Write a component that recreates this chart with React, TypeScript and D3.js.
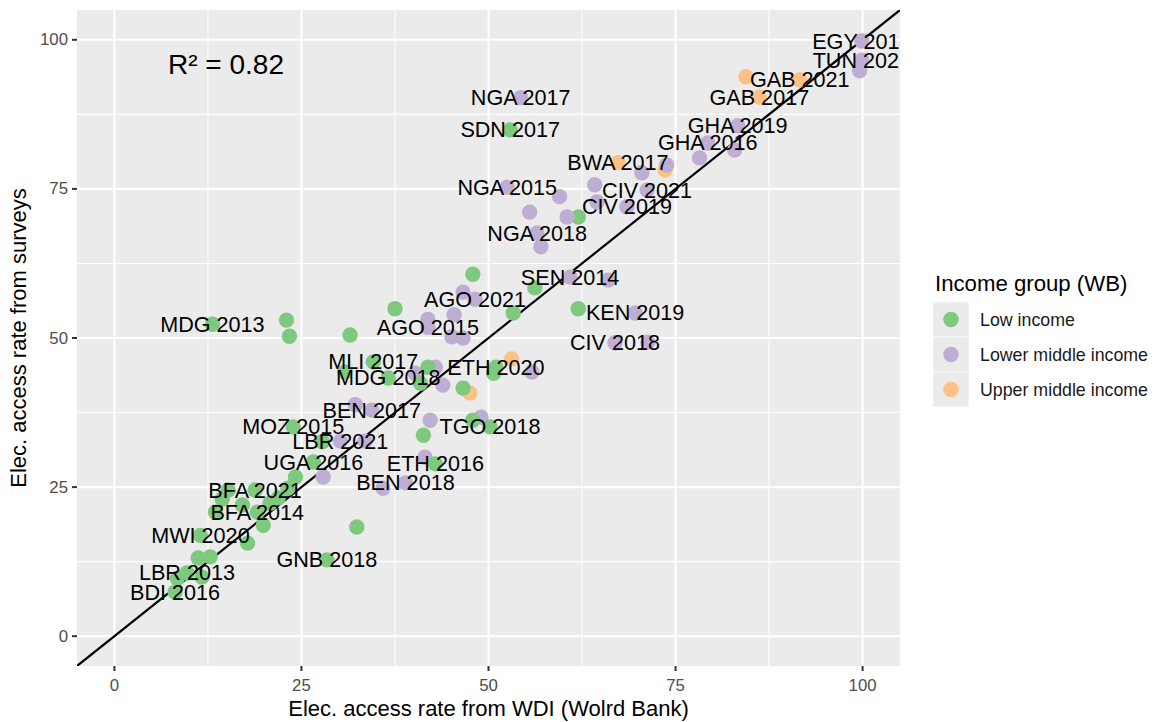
import React from "react";
import * as d3 from "d3";

// Income groups (World Bank classification) and their Accent palette colours
const incomeGroups = ["Low income", "Lower middle income", "Upper middle income"];
const groupColors = ["#7FC97F", "#BEAED4", "#FDC086"];

// [WDI access rate, survey access rate, income group index, country-year label]
// Orange first, then purple, then green, so overlaps stack the same way.
const observations: [number, number, number, string][] = [
  [84.4, 93.8, 2, ""],
  [91.6, 93.3, 2, "GAB 2021"],
  [86.2, 90.4, 2, "GAB 2017"],
  [67.3, 79.4, 2, "BWA 2017"],
  [73.6, 78.2, 2, ""],
  [53.1, 46.5, 2, ""],
  [47.5, 40.8, 2, ""],
  [62.0, 70.3, 0, ""],
  [99.9, 99.8, 1, "EGY 2014"],
  [99.9, 96.6, 1, "TUN 2021"],
  [99.6, 94.8, 1, ""],
  [83.3, 85.6, 1, "GHA 2019"],
  [79.3, 82.7, 1, "GHA 2016"],
  [82.9, 81.5, 1, ""],
  [78.2, 80.2, 1, ""],
  [73.8, 79.0, 1, ""],
  [70.5, 77.7, 1, ""],
  [64.2, 75.7, 1, ""],
  [71.2, 74.8, 1, "CIV 2021"],
  [59.5, 73.7, 1, ""],
  [52.5, 75.3, 1, "NGA 2015"],
  [55.5, 71.1, 1, ""],
  [68.5, 72.0, 1, "CIV 2019"],
  [64.5, 72.8, 1, ""],
  [60.5, 70.3, 1, ""],
  [56.5, 67.6, 1, "NGA 2018"],
  [57.0, 65.3, 1, ""],
  [54.3, 90.3, 1, "NGA 2017"],
  [60.9, 60.2, 1, "SEN 2014"],
  [66.0, 59.7, 1, ""],
  [46.6, 57.7, 1, ""],
  [48.2, 56.5, 1, "AGO 2021"],
  [45.4, 53.9, 1, ""],
  [41.9, 53.1, 1, ""],
  [41.9, 51.8, 1, "AGO 2015"],
  [45.1, 50.2, 1, ""],
  [46.6, 50.0, 1, ""],
  [69.6, 54.2, 1, "KEN 2019"],
  [66.9, 49.2, 1, "CIV 2018"],
  [71.3, 49.3, 1, ""],
  [55.8, 44.3, 1, ""],
  [42.9, 45.1, 1, ""],
  [40.2, 44.1, 1, ""],
  [43.9, 42.1, 1, ""],
  [42.2, 36.2, 1, ""],
  [49.0, 36.7, 1, ""],
  [32.2, 38.8, 1, ""],
  [34.4, 37.9, 1, "BEN 2017"],
  [30.2, 32.7, 1, "LBR 2021"],
  [33.5, 32.7, 1, ""],
  [27.9, 26.7, 1, ""],
  [41.5, 30.0, 1, ""],
  [38.9, 25.7, 1, "BEN 2018"],
  [35.9, 24.8, 1, ""],
  [52.9, 84.9, 0, "SDN 2017"],
  [47.9, 60.7, 0, ""],
  [56.2, 58.4, 0, ""],
  [53.3, 54.2, 0, ""],
  [37.5, 54.9, 0, ""],
  [62.0, 54.9, 0, ""],
  [13.1, 52.3, 0, "MDG 2013"],
  [23.0, 53.0, 0, ""],
  [23.4, 50.3, 0, ""],
  [31.5, 50.5, 0, ""],
  [34.6, 46.0, 0, "MLI 2017"],
  [30.8, 44.3, 0, ""],
  [36.6, 43.3, 0, "MDG 2018"],
  [41.9, 45.1, 0, ""],
  [40.9, 42.4, 0, ""],
  [51.0, 45.1, 0, "ETH 2020"],
  [50.7, 44.1, 0, ""],
  [46.6, 41.6, 0, ""],
  [47.9, 36.2, 0, ""],
  [50.2, 35.1, 0, "TGO 2018"],
  [41.3, 33.7, 0, ""],
  [23.9, 35.1, 0, "MOZ 2015"],
  [27.8, 32.6, 0, ""],
  [26.6, 29.2, 0, "UGA 2016"],
  [24.2, 26.7, 0, ""],
  [42.9, 28.9, 0, "ETH 2016"],
  [32.4, 18.3, 0, ""],
  [28.4, 12.8, 0, "GNB 2018"],
  [23.2, 24.8, 0, ""],
  [21.9, 23.2, 0, ""],
  [18.8, 24.5, 0, "BFA 2021"],
  [15.2, 24.5, 0, ""],
  [14.4, 23.0, 0, ""],
  [20.8, 22.3, 0, ""],
  [17.1, 22.0, 0, ""],
  [19.1, 20.8, 0, "BFA 2014"],
  [13.5, 20.8, 0, ""],
  [19.9, 18.6, 0, ""],
  [11.5, 16.9, 0, "MWI 2020"],
  [17.8, 15.6, 0, ""],
  [11.2, 13.1, 0, ""],
  [12.8, 13.3, 0, ""],
  [9.7, 10.6, 0, "LBR 2013"],
  [11.7, 9.9, 0, ""],
  [8.4, 9.7, 0, ""],
  [8.1, 7.4, 0, "BDI 2016"],
];

const majorTicks = [0, 25, 50, 75, 100];
const minorTicks = [12.5, 37.5, 62.5, 87.5];
const axisDomain: [number, number] = [-5, 105];
const fitIntercept = 0;
const fitSlope = 1;
const rSquaredText = "R² = 0.82";

const xTitle = "Elec. access rate from WDI (Wolrd Bank)";
const yTitle = "Elec. access rate from surveys";
const legendTitle = "Income group (WB)";

const FONT = "'Liberation Sans', Arial, Helvetica, sans-serif";

export default function App() {
  const width = 1156;
  const height = 722;
  const panel = { left: 77, right: 900, top: 10, bottom: 666 };

  const x = d3.scaleLinear().domain(axisDomain).range([panel.left, panel.right]);
  const y = d3.scaleLinear().domain(axisDomain).range([panel.bottom, panel.top]);

  const fitLine = d3
    .line<number>()
    .x((v) => x(v))
    .y((v) => y(fitIntercept + fitSlope * v));

  const legend = { x: 933, titleY: 283, keyTop: 302, keyH: 35, keyW: 36 };

  return (
    <svg
      width={width}
      height={height}
      style={{ position: "absolute", left: 0, top: 0, background: "#fff" }}
      fontFamily={FONT}
    >
      <defs>
        <clipPath id="panel-clip">
          <rect
            x={panel.left}
            y={panel.top}
            width={panel.right - panel.left}
            height={panel.bottom - panel.top}
          />
        </clipPath>
      </defs>

      {/* panel background and grid */}
      <rect
        x={panel.left}
        y={panel.top}
        width={panel.right - panel.left}
        height={panel.bottom - panel.top}
        fill="#EBEBEB"
      />
      {minorTicks.map((t) => (
        <g key={"minor" + t}>
          <line x1={x(t)} x2={x(t)} y1={panel.top} y2={panel.bottom} stroke="#fff" strokeWidth={1.1} />
          <line x1={panel.left} x2={panel.right} y1={y(t)} y2={y(t)} stroke="#fff" strokeWidth={1.1} />
        </g>
      ))}
      {majorTicks.map((t) => (
        <g key={"major" + t}>
          <line x1={x(t)} x2={x(t)} y1={panel.top} y2={panel.bottom} stroke="#fff" strokeWidth={2.1} />
          <line x1={panel.left} x2={panel.right} y1={y(t)} y2={y(t)} stroke="#fff" strokeWidth={2.1} />
        </g>
      ))}

      <g clipPath="url(#panel-clip)">
        {/* regression line */}
        <path d={fitLine(axisDomain) ?? ""} stroke="#000" strokeWidth={2.2} fill="none" />

        {/* points */}
        {observations.map((d, i) => (
          <circle key={"p" + i} cx={x(d[0])} cy={y(d[1])} r={7.7} fill={groupColors[d[2]]} />
        ))}

        {/* country-year labels */}
        {observations
          .filter((d) => d[3] !== "")
          .map((d, i) => (
            <text
              key={"l" + i}
              x={x(d[0])}
              y={y(d[1])}
              textAnchor="middle"
              dominantBaseline="central"
              fontSize={21.6}
              fill="#000"
            >
              {d[3]}
            </text>
          ))}

        <text x={226} y={74} textAnchor="middle" fontSize={28} fill="#000">
          {rSquaredText}
        </text>
      </g>

      {/* axes ticks and labels */}
      {majorTicks.map((t) => (
        <g key={"ax" + t}>
          <line x1={x(t)} x2={x(t)} y1={panel.bottom} y2={panel.bottom + 5} stroke="#333" strokeWidth={2} />
          <text
            x={x(t)}
            y={685}
            textAnchor="middle"
            dominantBaseline="central"
            fontSize={16.8}
            fill="#4D4D4D"
          >
            {t}
          </text>
          <line x1={panel.left - 5} x2={panel.left} y1={y(t)} y2={y(t)} stroke="#333" strokeWidth={2} />
          <text
            x={panel.left - 9}
            y={y(t)}
            textAnchor="end"
            dominantBaseline="central"
            fontSize={16.8}
            fill="#4D4D4D"
          >
            {t}
          </text>
        </g>
      ))}

      <text
        x={(panel.left + panel.right) / 2}
        y={708}
        textAnchor="middle"
        dominantBaseline="central"
        fontSize={22}
        fill="#000"
      >
        {xTitle}
      </text>
      <text
        transform={`translate(18, ${(panel.top + panel.bottom) / 2}) rotate(-90)`}
        textAnchor="middle"
        dominantBaseline="central"
        fontSize={22}
        fill="#000"
      >
        {yTitle}
      </text>

      {/* legend */}
      <text x={legend.x + 2} y={legend.titleY} dominantBaseline="central" fontSize={22.2} fill="#000">
        {legendTitle}
      </text>
      {incomeGroups.map((g, i) => {
        const top = legend.keyTop + i * legend.keyH;
        return (
          <g key={"lg" + i}>
            <rect x={legend.x} y={top} width={legend.keyW} height={legend.keyH} fill="#EBEBEB" stroke="#fff" strokeWidth={0.6} />
            <circle cx={legend.x + legend.keyW / 2} cy={top + legend.keyH / 2} r={7.8} fill={groupColors[i]} />
            <text
              x={legend.x + legend.keyW + 11}
              y={top + legend.keyH / 2}
              dominantBaseline="central"
              fontSize={17.8}
              fill="#1A1A1A"
            >
              {g}
            </text>
          </g>
        );
      })}
    </svg>
  );
}
